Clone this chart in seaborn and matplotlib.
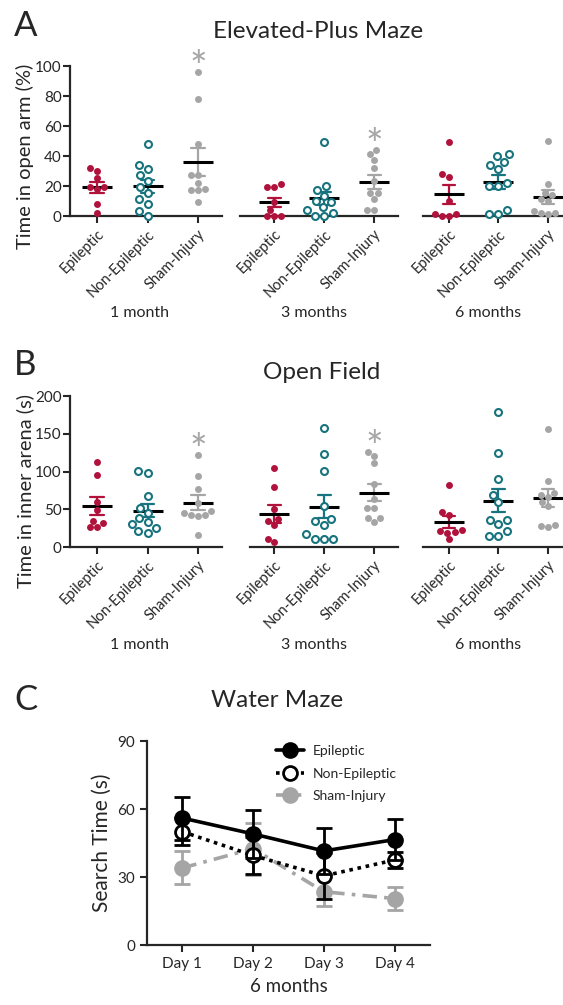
import numpy as np
import pandas as pd
import matplotlib
matplotlib.use("Agg")
import matplotlib.pyplot as plt
import seaborn as sns

# ---- data ----
groups = ["Epileptic", "Non-Epileptic", "Sham-Injury"]
timepoints = ["1 month", "3 months", "6 months"]

# elevated-plus maze, time in open arm (%)
epm_1m_epi = [32, 30, 25, 19, 18, 19, 8, 2]
epm_1m_non = [48, 34, 31, 27, 23, 19, 15, 11, 8, 3, 0]
epm_1m_sham = [96, 78, 48, 27, 27, 22, 17, 17, 18, 9]
epm_3m_epi = [21, 19, 19, 9, 4, 0, 0, 0]
epm_3m_non = [49, 20, 17, 13, 10, 9, 6, 4, 2, 0, 0]
epm_3m_sham = [44, 41, 37, 32, 23, 15, 15, 11, 4, 4]
epm_6m_epi = [49, 28, 26, 10, 1, 0, 0, 1]
epm_6m_non = [41, 40, 36, 34, 31, 22, 20, 20, 4, 1, 1]
epm_6m_sham = [50, 21, 15, 14, 11, 10, 2, 2, 1, 3]

# open field, time in inner arena (s)
of_1m_epi = [112, 95, 59, 49, 34, 32, 26, 26]
of_1m_non = [101, 98, 67, 52, 45, 38, 33, 30, 25, 21, 19]
of_1m_sham = [122, 94, 77, 58, 48, 45, 42, 41, 42, 16]
of_3m_epi = [104, 80, 50, 37, 35, 29, 11, 6]
of_3m_non = [158, 123, 101, 54, 37, 34, 29, 17, 11, 11, 11]
of_3m_sham = [126, 121, 111, 84, 63, 52, 52, 38, 38, 33]
of_6m_epi = [82, 46, 43, 22, 21, 20, 19, 10]
of_6m_non = [179, 125, 90, 69, 59, 36, 36, 30, 21, 15, 15]
of_6m_sham = [156, 87, 72, 69, 66, 59, 54, 29, 28, 27]

# significant groups (asterisk) per time point
stars = ["Sham-Injury", "Sham-Injury", None]

# water maze, search time (s), mean and SEM
days = ["Day 1", "Day 2", "Day 3", "Day 4"]
wm_epi_mean = [56, 49, 41.5, 46.5]
wm_epi_sem = [9.5, 10.5, 10.3, 9]
wm_non_mean = [50, 39.5, 30.5, 37.5]
wm_non_sem = [6, 8, 10, 3.5]
wm_sham_mean = [34, 42.5, 23.5, 20.5]
wm_sham_sem = [7.3, 11.5, 6.5, 5]

red = "#b0123c"
teal = "#17737d"
grey = "#a5a5a5"
colors = {"Epileptic": red, "Non-Epileptic": teal, "Sham-Injury": grey}

sns.set_style("ticks")
plt.rcParams["font.family"] = ["Lato", "DejaVu Sans"]
plt.rcParams["axes.linewidth"] = 1.6

W, H = 563, 1005
fig = plt.figure(figsize=(W / 100, H / 100), dpi=100)
fig.patch.set_facecolor("white")


def px_axes(left, right, top, bottom):
    return fig.add_axes([left / W, 1 - bottom / H, (right - left) / W, (bottom - top) / H])


def scatter_panel(ax, vals, ylim, yticks, tlabel, star, first, label_x):
    df = pd.DataFrame({"group": np.repeat(groups, [len(v) for v in vals]),
                       "value": np.concatenate(vals).astype(float)})
    for g, v in zip(groups, vals):
        n0 = len(ax.collections)
        sns.swarmplot(x=[g] * len(v), y=v, order=groups, color=colors[g], size=5,
                      linewidth=0, clip_on=False, ax=ax)
        if g == "Non-Epileptic":
            # open circles
            for coll in ax.collections[n0:]:
                coll.set_facecolor("white")
                coll.set_edgecolor(teal)
                coll.set_linewidth(1.5)
    sns.pointplot(data=df, x="group", y="value", hue="group", order=groups, hue_order=groups,
                  palette=colors, errorbar="se", capsize=0.26, marker="", linestyle="none",
                  err_kws={"linewidth": 1.6}, legend=False, ax=ax)
    sns.pointplot(data=df, x="group", y="value", order=groups, errorbar=None, color="black",
                  marker="_", markersize=22, markeredgewidth=2.2, linestyle="none", ax=ax)
    if star is not None:
        i = groups.index(star)
        ax.annotate("*", xy=(i, max(vals[i])), xytext=(0, 2), textcoords="offset points",
                    ha="center", va="center", fontsize=30, color=grey, annotation_clip=False)
    ax.set_ylim(ylim)
    ax.set_xticks(range(3))
    ax.set_xticklabels(groups, rotation=45, ha="right", rotation_mode="anchor", fontsize=10.5)
    ax.tick_params(axis="x", length=5, width=1.5, pad=3)
    ax.set_xlabel(tlabel, fontsize=11.5)
    ax.xaxis.set_label_coords(label_x, -0.6)
    ax.set_ylabel("")
    sns.despine(ax=ax, left=not first)
    if first:
        ax.set_yticks(yticks)
        ax.tick_params(axis="y", length=5, width=1.5, labelsize=11, pad=1)
    else:
        ax.set_yticks([])


# ---- panel A ----
epm = [[epm_1m_epi, epm_1m_non, epm_1m_sham],
       [epm_3m_epi, epm_3m_non, epm_3m_sham],
       [epm_6m_epi, epm_6m_non, epm_6m_sham]]
a_pos = [(70, 222, (-0.535, 2.475), 0.46), (240, 398, (-0.68, 2.48), 0.47), (423, 572, (-0.525, 2.485), 0.44)]
for k, (l, r, xl, lx) in enumerate(a_pos):
    ax = px_axes(l, r, 66, 216)
    scatter_panel(ax, epm[k], (0, 100), [0, 20, 40, 60, 80, 100], timepoints[k], stars[k], k == 0, lx)
    ax.set_xlim(xl)
    if k == 0:
        ax.set_ylabel("Time in open arm (%)", fontsize=14.5)
        ax.yaxis.set_label_coords(-0.235, 0.40)

# ---- panel B ----
of = [[of_1m_epi, of_1m_non, of_1m_sham],
      [of_3m_epi, of_3m_non, of_3m_sham],
      [of_6m_epi, of_6m_non, of_6m_sham]]
b_pos = [(70, 222, (-0.535, 2.475), 0.46), (250, 398, (-0.48, 2.48), 0.43), (423, 572, (-0.525, 2.485), 0.44)]
for k, (l, r, xl, lx) in enumerate(b_pos):
    ax = px_axes(l, r, 396, 547)
    scatter_panel(ax, of[k], (0, 200), [0, 50, 100, 150, 200], timepoints[k], stars[k], k == 0, lx)
    ax.set_xlim(xl)
    if k == 0:
        ax.set_ylabel("Time in inner arena (s)", fontsize=14.5)
        ax.yaxis.set_label_coords(-0.235, 0.37)

# ---- panel C ----
axc = px_axes(147, 430, 741, 945)
wm = [("Sham-Injury", wm_sham_mean, wm_sham_sem, grey, (0, (4, 2, 1, 2)), grey, 3),
      ("Non-Epileptic", wm_non_mean, wm_non_sem, "black", (0, (1, 1.3)), "white", 4),
      ("Epileptic", wm_epi_mean, wm_epi_sem, "black", "-", "black", 5)]
for name, m, s, c, ls, fc, z in wm:
    axc.errorbar(days, m, yerr=s, fmt="none", ecolor=c, elinewidth=2, capsize=6, capthick=2, zorder=z)
    sns.lineplot(x=days, y=m, color=c, linestyle=ls, linewidth=2.6, marker="o", markersize=10,
                 markerfacecolor=fc, markeredgecolor=c, markeredgewidth=2, label=name, zorder=z + 0.5, ax=axc)
axc.set_ylim(0, 90)
axc.set_yticks([0, 30, 60, 90])
axc.set_xlim(-0.5, 3.5)
axc.tick_params(axis="both", length=5, width=1.5, labelsize=11)
axc.set_ylabel("Search Time (s)", fontsize=15)
axc.set_xlabel("6 months", fontsize=13.5, labelpad=5)
sns.despine(ax=axc)
h, lab = axc.get_legend_handles_labels()
axc.legend(h[::-1], lab[::-1], frameon=False, fontsize=10, loc="upper right",
           bbox_to_anchor=(0.925, 1.04), handlelength=2.0, handletextpad=0.6, labelspacing=0.75)

# ---- titles and panel letters ----
fig.text(318 / W, 1 - 31 / H, "Elevated-Plus Maze", ha="center", va="center", fontsize=17.5)
fig.text(322 / W, 1 - 372 / H, "Open Field", ha="center", va="center", fontsize=17.5)
fig.text(277 / W, 1 - 700 / H, "Water Maze", ha="center", va="center", fontsize=17.5)
fig.text(14 / W, 1 - 26 / H, "A", ha="left", va="center", fontsize=25)
fig.text(14 / W, 1 - 365 / H, "B", ha="left", va="center", fontsize=25)
fig.text(14 / W, 1 - 700 / H, "C", ha="left", va="center", fontsize=25)

fig.savefig("out.png", dpi=100, facecolor="white")
